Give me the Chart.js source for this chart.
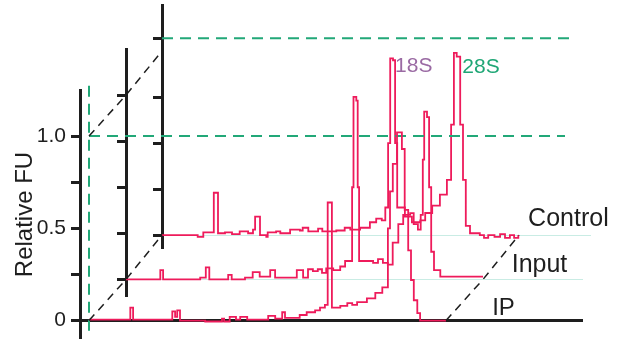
<!DOCTYPE html>
<html>
<head>
<meta charset="utf-8">
<script src="https://cdn.jsdelivr.net/npm/chart.js@4.4.0/dist/chart.umd.min.js"></script>
<style>
  html, body { margin: 0; padding: 0; background: #fff; }
  #wrap { position: relative; width: 622px; height: 339px; }
  #wrap canvas { position: absolute; left: 0; top: 0; }
</style>
</head>
<body>
<div id="wrap">
  <canvas id="controlChart" width="622" height="339"></canvas>
  <canvas id="inputChart" width="622" height="339"></canvas>
  <canvas id="ipChart" width="622" height="339"></canvas>
</div>
<script>
// Migration time (s) and relative fluorescence for each trace
const controlTime = [19.0, 24.1, 24.9, 26.4, 27.0, 28.0, 29.0, 30.1, 31.3, 32.0, 32.3, 33.0, 33.9, 34.1, 35.3, 35.9,
  37.3, 38.7, 39.1, 39.9, 41.3, 41.9, 43.0, 43.9, 45.1, 45.9, 47.3, 48.7, 49.6, 50.4, 50.9, 51.3, 51.6, 52.0,
  52.3, 52.6, 53.7, 54.7, 55.9, 56.6, 57.6, 58.7, 59.7, 60.3, 60.7, 61.1, 61.6, 62.0, 62.4, 63.0, 64.4, 65.0,
  65.6, 66.5, 67.3, 68.0, 68.7, 69.3, 69.9];
const controlFU = [0, -0.01, 0.015, 0.23, 0.01, 0.015, 0.005, 0.02, 0.01, 0.03, 0.1, 0.0, -0.01, 0.015, 0.02, 0.01,
  0.03, 0.025, 0.04, 0.02, 0.035, 0.02, 0.02, 0.025, 0.04, 0.03, 0.04, 0.07, 0.09, 0.08, 0.15, 0.5, 0.96, 0.95,
  0.5, 0.15, 0.1, 0.07, 0.08, 0.12, 0.16, 0.22, 0.3, 0.6, 0.99, 0.97, 0.6, 0.3, 0.05, 0.01, 0.0, -0.015,
  0.0, -0.01, 0.005, -0.015, 0.0, -0.015, 0.0];

const inputTime = [19.0, 23.9, 24.3, 29.6, 30.4, 30.9, 33.6, 34.1, 36.0, 37.1, 38.1, 39.6, 40.3, 43.4, 44.3, 45.0,
  45.7, 46.4, 47.0, 47.6, 48.6, 49.6, 50.3, 51.3, 51.5, 51.9, 52.1, 52.3, 53.6, 54.3, 55.0, 55.7, 56.4, 57.1,
  57.9, 58.6, 59.6, 60.1, 60.7, 61.1, 61.4, 61.6, 62.0, 62.3, 62.6, 63.0, 63.9, 70.0];
const inputFU = [0, 0.05, 0, 0.01, 0.065, 0, 0.025, 0, 0.01, 0.04, 0.015, 0.05, 0.01, 0.05, 0.01, 0.055,
  0.045, 0.055, 0.035, 0.06, 0.05, 0.07, 0.1, 0.5, 0.99, 0.97, 0.5, 0.1, 0.1, 0.09, 0.11, 0.09, 0.08, 0.2,
  0.3, 0.35, 0.36, 0.3, 0.27, 0.35, 0.65, 0.91, 0.88, 0.5, 0.15, 0.05, 0.015, 0.015];

const ipTime = [19.0, 24.9, 25.3, 30.9, 31.3, 31.6, 32.0, 35.6, 38.0, 38.3, 39.1, 40.0, 40.6, 41.6, 44.6, 45.6,
  46.6, 47.0, 49.1, 50.1, 51.3, 52.0, 52.7, 53.1, 53.7, 54.9, 55.9, 56.6, 57.3, 58.7, 59.9, 60.9, 61.7, 62.0,
  62.4, 63.0, 63.7, 64.1, 64.6, 65.0, 65.4, 65.9, 66.3, 70.0];
const ipFU = [0.005, 0.07, 0.005, 0.05, 0.02, 0.055, 0.0, -0.005, 0.01, -0.005, 0.02, 0.005, 0.02, 0.005, 0.025, 0.01,
  0.045, 0.015, 0.03, 0.045, 0.055, 0.07, 0.085, 0.64, 0.07, 0.08, 0.095, 0.085, 0.1, 0.12, 0.15, 0.18, 0.5, 0.7,
  0.85, 1.02, 0.93, 0.6, 0.38, 0.22, 0.11, 0.04, 0, 0];

// axis ticks and labels
const frontTicks = [0, 0.25, 0.5, 0.75, 1.0];
const frontTickLabels = ['0', '', '0.5', '', '1.0'];
const inputTicks = [0, 0.25, 0.5, 0.75, 1.0];
const controlTicks = [0, 0.25, 0.5, 0.75, 1.07];

// green reference levels and trace start / end times
const startTime = 19;
const endTime = 70;
const frontRefLevel = 1.0;
const controlRefLevel = 1.07;

const FONT = "'Liberation Sans', Arial, Helvetica, sans-serif";
const TRACE = '#ee1b5b';
const GREEN = '#22a878';
const INK = '#1e1e1e';
const PX_PER_S = 7;

function toPoints(xs, ys) {
  return xs.map((x, i) => ({ x: x, y: ys[i] }));
}

function traceDataset(label, xs, ys) {
  return { label: label, data: toPoints(xs, ys), borderColor: TRACE, borderWidth: 1.8,
    pointRadius: 0, stepped: true, fill: false };
}

function refDataset(points) {
  return { data: points, borderColor: GREEN, borderWidth: 2, borderDash: [11, 7],
    pointRadius: 0, fill: false, clip: false };
}

function yAxis(o) {
  return {
    type: 'linear', position: 'left', min: o.min, max: o.max,
    border: { color: INK, width: 3 },
    grid: { drawOnChartArea: false, drawTicks: true, tickLength: 9, tickWidth: 3, tickColor: INK },
    ticks: {
      display: !!o.labels, padding: 5, color: INK, font: { family: FONT, size: 21 },
      callback: (v, i) => (o.labels ? o.labels[i] : '')
    },
    title: o.title
      ? { display: true, text: o.title, color: INK, font: { family: FONT, size: 24 }, padding: { top: 11, bottom: 0 } }
      : { display: false },
    afterBuildTicks: axis => { axis.ticks = o.ticks.map(v => ({ value: v })); },
    afterFit: axis => { axis.width = o.left; axis.paddingTop = 0; axis.paddingBottom = 0; }
  };
}

function xAxis(o) {
  return {
    type: 'linear', position: { y: 0 }, min: o.min, max: o.min + o.span / PX_PER_S,
    border: { color: o.color, width: o.width },
    grid: { display: false },
    ticks: { display: false },
    afterFit: axis => { axis.height = 0; axis.paddingLeft = 0; axis.paddingRight = 0; }
  };
}

// text drawn at data positions of a chart
function labelPlugin(items) {
  return {
    id: 'textLabels',
    afterDatasetsDraw(chart) {
      const { ctx, scales: { x, y } } = chart;
      items.forEach(it => {
        ctx.save();
        ctx.font = it.size + 'px ' + FONT;
        ctx.fillStyle = it.color || INK;
        ctx.textAlign = 'left';
        ctx.textBaseline = 'middle';
        ctx.fillText(it.text, x.getPixelForValue(it.x), y.getPixelForValue(it.y));
        ctx.restore();
      });
    }
  };
}

function baseOptions(pad, scales) {
  return {
    responsive: false, animation: false, events: [],
    layout: { padding: pad },
    plugins: { legend: { display: false }, tooltip: { enabled: false } },
    scales: scales
  };
}

// back trace: Control
const controlChart = new Chart(document.getElementById('controlChart'), {
  type: 'line',
  data: {
    datasets: [
      traceDataset('Control', controlTime, controlFU),
      refDataset([{ x: startTime, y: controlRefLevel }, { x: 77.3, y: controlRefLevel }])
    ]
  },
  options: baseOptions({ left: 0, right: 32, top: 5, bottom: 91 }, {
    x: xAxis({ min: startTime, span: 428, color: '#c9ece4', width: 1 }),
    y: yAxis({ min: -0.07, max: 1.25, ticks: controlTicks, left: 162 })
  }),
  plugins: [labelPlugin([
    { text: 'Control', x: 71.3, y: 0.087, size: 25 },
    { text: '18S', x: 52.3, y: 0.92, size: 21, color: '#9a6aa3' },
    { text: '28S', x: 61.9, y: 0.91, size: 21, color: '#1ea675' }
  ])]
});

// middle trace: Input
const inputChart = new Chart(document.getElementById('inputChart'), {
  type: 'line',
  data: { datasets: [traceDataset('Input', inputTime, inputFU)] },
  options: baseOptions({ left: 0, right: 40, top: 49, bottom: 43 }, {
    x: xAxis({ min: startTime, span: 456, color: '#c9ece4', width: 1 }),
    y: yAxis({ min: -0.09, max: 1.25, ticks: inputTicks, left: 126 })
  }),
  plugins: [labelPlugin([{ text: 'Input', x: 74.1, y: 0.076, size: 25 }])]
});

// dashed depth lines joining the three panels
const depthAnchors = [[startTime, 0], [startTime, 1.0], [endTime, 0]];
const depthLines = {
  id: 'depthLines',
  afterDatasetsDraw(chart) {
    const charts = [chart, inputChart, controlChart];
    const ctx = chart.ctx;
    ctx.save();
    ctx.setLineDash([8, 6]);
    ctx.strokeStyle = INK;
    ctx.lineWidth = 1.5;
    depthAnchors.forEach(([t, v]) => {
      ctx.beginPath();
      charts.forEach((c, i) => {
        const px = c.scales.x.getPixelForValue(t);
        const py = c.scales.y.getPixelForValue(v);
        if (i === 0) ctx.moveTo(px, py); else ctx.lineTo(px, py);
      });
      ctx.stroke();
    });
    ctx.restore();
  }
};

// front trace: IP
const ipChart = new Chart(document.getElementById('ipChart'), {
  type: 'line',
  data: {
    datasets: [
      traceDataset('IP', ipTime, ipFU),
      refDataset([{ x: startTime, y: frontRefLevel }, { x: 87, y: frontRefLevel }]),
      refDataset([{ x: startTime, y: -0.055 }, { x: startTime, y: 1.3 }])
    ]
  },
  options: baseOptions({ left: 0, right: 40, top: 90, bottom: 0 }, {
    x: xAxis({ min: startTime - 9 / PX_PER_S, span: 502, color: INK, width: 3 }),
    y: yAxis({ min: -0.1, max: 1.25, ticks: frontTicks, labels: frontTickLabels, left: 80, title: 'Relative FU' })
  }),
  plugins: [depthLines, labelPlugin([{ text: 'IP', x: 76.6, y: 0.068, size: 24 }])]
});
</script>
</body>
</html>
